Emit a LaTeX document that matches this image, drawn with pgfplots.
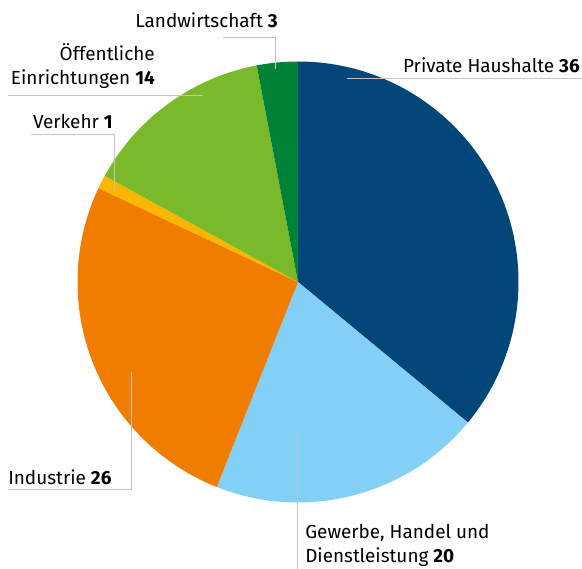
\documentclass[border=0pt]{standalone}
\usepackage{fontspec}
\setmainfont{Fira Sans}
\usepackage{pgfplots}
\pgfplotsset{compat=1.18}

\definecolor{privat}{RGB}{0,70,121}
\definecolor{gewerbe}{RGB}{130,208,245}
\definecolor{industrie}{RGB}{240,125,0}
\definecolor{verkehr}{RGB}{250,182,0}
\definecolor{oeffentlich}{RGB}{122,185,41}
\definecolor{landwirt}{RGB}{0,130,55}
\definecolor{leader}{RGB}{195,195,195}

% radius of the pie = one axis unit
\newcommand{\R}{165.375pt}

\begin{document}
\begin{tikzpicture}
\begin{axis}[
  hide axis, scale only axis,
  x=\R, y=\R,
  xmin=-1.3515, xmax=1.288, ymin=-1.3016, ymax=1.2789,
  clip=false,
]
% slices, clockwise from 12 o'clock: 36, 20, 26, 1, 14, 3 (percent)
\fill[privat] (axis cs:0,0) -- (axis cs:{cos(90)},{sin(90)})
  arc[start angle=90, end angle={90-36*3.6}, radius=\R] -- cycle;
\fill[gewerbe] (axis cs:0,0) -- (axis cs:{cos(90-36*3.6)},{sin(90-36*3.6)})
  arc[start angle={90-36*3.6}, end angle={90-56*3.6}, radius=\R] -- cycle;
\fill[industrie] (axis cs:0,0) -- (axis cs:{cos(90-56*3.6)},{sin(90-56*3.6)})
  arc[start angle={90-56*3.6}, end angle={90-82*3.6}, radius=\R] -- cycle;
\fill[verkehr] (axis cs:0,0) -- (axis cs:{cos(90-82*3.6)},{sin(90-82*3.6)})
  arc[start angle={90-82*3.6}, end angle={90-83*3.6}, radius=\R] -- cycle;
\fill[oeffentlich] (axis cs:0,0) -- (axis cs:{cos(90-83*3.6)},{sin(90-83*3.6)})
  arc[start angle={90-83*3.6}, end angle={90-97*3.6}, radius=\R] -- cycle;
\fill[landwirt] (axis cs:0,0) -- (axis cs:{cos(90-97*3.6)},{sin(90-97*3.6)})
  arc[start angle={90-97*3.6}, end angle={90-100*3.6}, radius=\R] -- cycle;

% leader lines
\draw[leader, line width=0.75pt] (axis cs:-0.340,1.111) -- (axis cs:-0.102,1.111) -- (axis cs:-0.102,0.966);
\draw[leader, line width=0.75pt] (axis cs:-1.315,0.848) -- (axis cs:-0.431,0.848);
\draw[leader, line width=0.75pt] (axis cs:-1.211,0.671) -- (axis cs:-0.830,0.671) -- (axis cs:-0.830,0.413);
\draw[leader, line width=0.75pt] (axis cs:0.222,0.921) -- (axis cs:1.288,0.921);
\draw[leader, line width=0.75pt] (axis cs:-1.315,-0.943) -- (axis cs:-0.757,-0.943) -- (axis cs:-0.757,-0.408);
\draw[leader, line width=0.75pt] (axis cs:-0.0045,-0.676) -- (axis cs:-0.0045,-1.302);

% labels
\begin{scope}[every node/.style={inner sep=0pt, font=\fontsize{14.2}{17.5}\selectfont, text=black}]
\node[anchor=east] at (axis cs:-0.0907,1.188) {Landwirtschaft \textbf{3}};
\node[anchor=east, align=right] at (axis cs:-0.6485,0.9796) {Öffentliche\\Einrichtungen \textbf{14}};
\node[anchor=east] at (axis cs:-0.839,0.730) {Verkehr \textbf{1}};
\node[anchor=east] at (axis cs:1.279,0.984) {Private Haushalte \textbf{36}};
\node[anchor=west] at (axis cs:-1.315,-0.884) {Industrie \textbf{26}};
\node[anchor=west, align=left] at (axis cs:0.0317,-1.195) {Gewerbe, Handel und\\Dienstleistung \textbf{20}};
\end{scope}
\end{axis}
\pgfresetboundingbox
\path (current axis.south west) rectangle (current axis.north east);
\end{tikzpicture}
\end{document}
